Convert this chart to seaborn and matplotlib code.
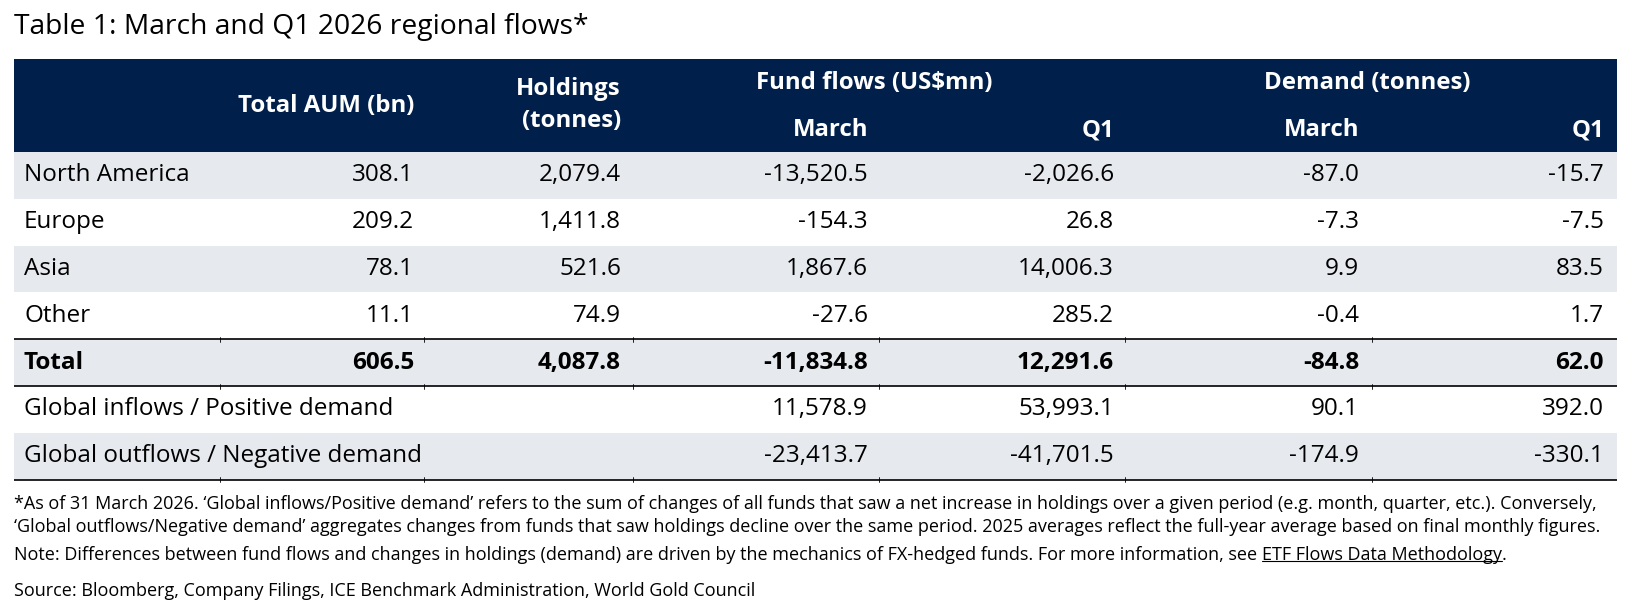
import matplotlib
matplotlib.use("Agg")
import matplotlib.pyplot as plt
import seaborn as sns

# table content
regions = ["North America", "Europe", "Asia", "Other"]
aum = ["308.1", "209.2", "78.1", "11.1"]
holdings = ["2,079.4", "1,411.8", "521.6", "74.9"]
flows_march = ["-13,520.5", "-154.3", "1,867.6", "-27.6"]
flows_q1 = ["-2,026.6", "26.8", "14,006.3", "285.2"]
demand_march = ["-87.0", "-7.3", "9.9", "-0.4"]
demand_q1 = ["-15.7", "-7.5", "83.5", "1.7"]

total_row = ["Total", "606.5", "4,087.8", "-11,834.8", "12,291.6", "-84.8", "62.0"]
inflow_row = ["Global inflows / Positive demand", "", "", "11,578.9", "53,993.1", "90.1", "392.0"]
outflow_row = ["Global outflows / Negative demand", "", "", "-23,413.7", "-41,701.5", "-174.9", "-330.1"]

title = "Table 1: March and Q1 2026 regional flows*"
notes = [
    "*As of 31 March 2026. \u2018Global inflows/Positive demand\u2019 refers to the sum of changes of all funds that saw a net increase in holdings over a given period (e.g. month, quarter, etc.). Conversely,",
    "\u2018Global outflows/Negative demand\u2019 aggregates changes from funds that saw holdings decline over the same period. 2025 averages reflect the full-year average based on final monthly figures.",
]
note_text = "Note: Differences between fund flows and changes in holdings (demand) are driven by the mechanics of FX-hedged funds. For more information, see "
note_link = "ETF Flows Data Methodology"
source = "Source: Bloomberg, Company Filings, ICE Benchmark Administration, World Gold Council"

NAVY = "#001f4b"
GREY = "#e6e9ee"
FONT = ["Open Sans", "DejaVu Sans"]

sns.set_theme(style="white")
plt.rcParams["font.family"] = FONT

fig = plt.figure(figsize=(16.38, 6.02), dpi=100)
ax = fig.add_axes([0, 0, 1, 1])
ax.set_xlim(0, 1638)
ax.set_ylim(602, 0)
ax.axis("off")

left, right = 14, 1617
col_right = [None, 414, 621, 868, 1114, 1359, 1604]
col_edges = [220, 424, 633, 879, 1125, 1372]
head_top, head_bot = 59, 152
row_h = 46.8
fs = 17.5
hfs = 17.3

ax.text(left, 27, title, fontsize=20.3, va="center", ha="left", color="black")

# header
ax.fill_between([left, right], head_top, head_bot, color=NAVY, lw=0)
hk = dict(color="white", fontsize=hfs, fontweight="bold", va="center")
ax.text(col_right[1], 106, "Total AUM (bn)", ha="right", **hk)
ax.text(col_right[2], 89, "Holdings", ha="right", **hk)
ax.text(col_right[2], 121, "(tonnes)", ha="right", **hk)
ax.text(874, 83, "Fund flows (US$mn)", ha="center", **hk)
ax.text(1367, 83, "Demand (tonnes)", ha="center", **hk)
ax.text(col_right[3], 130, "March", ha="right", **hk)
ax.text(col_right[4], 130, "Q1", ha="right", **hk)
ax.text(col_right[5], 130, "March", ha="right", **hk)
ax.text(col_right[6], 130, "Q1", ha="right", **hk)

body = [list(r) for r in zip(regions, aum, holdings, flows_march, flows_q1, demand_march, demand_q1)]
rows = body + [total_row, inflow_row, outflow_row]
shaded = [True, False, True, False, True, False, True]

for i, row in enumerate(rows):
    top = head_bot + i * row_h
    mid = top + row_h / 2
    if shaded[i]:
        ax.fill_between([left, right], top, top + row_h, color=GREY, lw=0)
    weight = "bold" if row[0] == "Total" else "normal"
    ax.text(24, mid, row[0], ha="left", va="center", fontsize=fs, fontweight=weight, color="black")
    for j in range(1, 7):
        if row[j]:
            ax.text(col_right[j], mid, row[j], ha="right", va="center", fontsize=fs,
                    fontweight=weight, color="black")

# rules with small cell-border ticks
for k in (4, 5, 7):
    y = head_bot + k * row_h
    ax.plot([left, right], [y, y], color="black", lw=1.2, solid_capstyle="butt")
    for x in col_edges:
        ax.plot([x, x], [y - 2.5, y + 2.5], color="black", lw=0.6)

# footnotes
nf = 13
ax.text(left, 504, notes[0], ha="left", va="center", fontsize=nf, color="black")
ax.text(left, 527, notes[1], ha="left", va="center", fontsize=nf, color="black")
t = ax.text(left, 555, note_text, ha="left", va="center", fontsize=nf, color="black")
fig.canvas.draw()
r = fig.canvas.get_renderer()
inv = ax.transData.inverted()
x_end = inv.transform((t.get_window_extent(r).x1, 0))[0]
lk = ax.text(x_end, 555, note_link, ha="left", va="center", fontsize=nf, color="black")
fig.canvas.draw()
bl = lk.get_window_extent(r)
(lx0, ly0), (lx1, _) = inv.transform([(bl.x0, bl.y0), (bl.x1, bl.y1)])
ax.plot([lx0, lx1], [ly0 - 3, ly0 - 3], color="black", lw=0.8)
ax.text(lx1, 555, ".", ha="left", va="center", fontsize=nf, color="black")
ax.text(left, 591, source, ha="left", va="center", fontsize=nf, color="black")

fig.savefig("out.png", dpi=100)
